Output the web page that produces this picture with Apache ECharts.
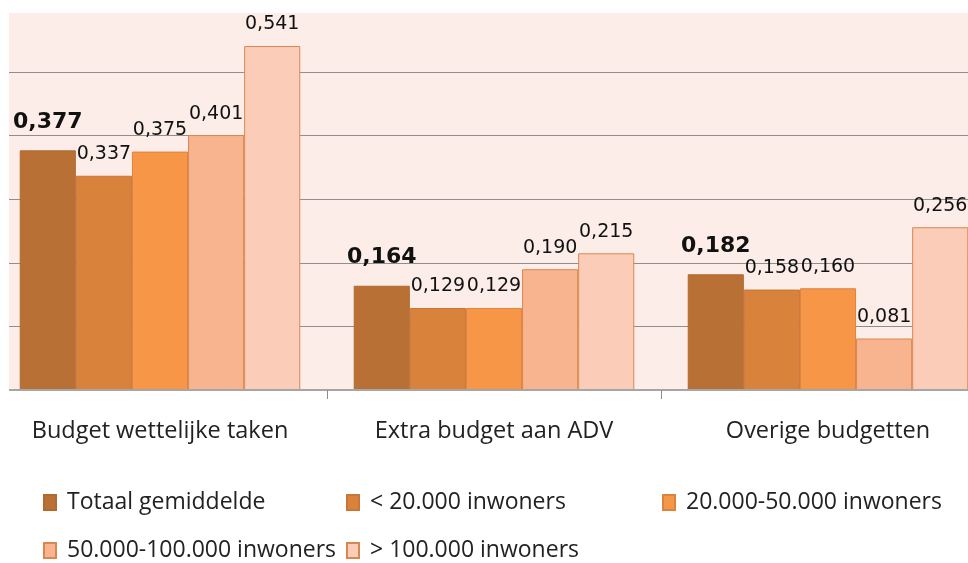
<!DOCTYPE html>
<html>
<head>
<meta charset="utf-8">
<script src="https://cdn.jsdelivr.net/npm/echarts@6/dist/echarts.min.js"></script>
<style>
  html, body { margin: 0; padding: 0; background: #ffffff; }
  #chart { width: 968px; height: 563px; }
</style>
</head>
<body>
<div id="chart"></div>
<script>
// ---- data ----
var categories = ['Budget wettelijke taken', 'Extra budget aan ADV', 'Overige budgetten'];
var seriesNames = ['Totaal gemiddelde', '< 20.000 inwoners', '20.000-50.000 inwoners', '50.000-100.000 inwoners', '> 100.000 inwoners'];
var totaalGemiddelde = [0.377, 0.164, 0.182];
var onder20000 = [0.337, 0.129, 0.158];
var van20000tot50000 = [0.375, 0.129, 0.160];
var van50000tot100000 = [0.401, 0.190, 0.081];
var boven100000 = [0.541, 0.215, 0.256];
var seriesValues = [totaalGemiddelde, onder20000, van20000tot50000, van50000tot100000, boven100000];

// ---- styles ----
var colors = ['#B87034', '#D9823C', '#F79646', '#F8B48E', '#FBCDB8'];
var borders = ['#B06A30', '#C9763A', '#D98540', '#D9874E', '#D9874E'];

function fmt(v) { return v.toFixed(3).replace('.', ','); }

var series = seriesValues.map(function (vals, i) {
  var first = i === 0;
  return {
    name: seriesNames[i],
    type: 'bar',
    data: vals,
    barGap: '0%',
    barCategoryGap: '16%',
    itemStyle: { color: colors[i], borderColor: borders[i], borderWidth: 1 },
    label: {
      show: true,
      position: 'top',
      distance: first ? 17 : 12,
      formatter: function (p) { return fmt(p.value); },
      fontFamily: 'DejaVu Sans',
      fontSize: first ? 22 : 19,
      fontWeight: first ? 'bold' : 'normal',
      color: '#111111'
    },
    z: 3
  };
});

var legendLayout = [
  { left: 43, top: 491 },
  { left: 346, top: 491 },
  { left: 662, top: 491 },
  { left: 43, top: 539 },
  { left: 346, top: 539 }
];
var legends = seriesNames.map(function (n, i) {
  return {
    data: [{ name: n, icon: 'rect' }],
    left: legendLayout[i].left,
    top: legendLayout[i].top,
    padding: 0,
    itemWidth: 12,
    itemHeight: 15,
    selectedMode: false,
    textStyle: { fontFamily: 'Open Sans', fontSize: 23, color: '#222222', padding: [0, 0, 0, 6] }
  };
});

var chart = echarts.init(document.getElementById('chart'), null, { renderer: 'canvas' });
chart.setOption({
  animation: false,
  backgroundColor: '#ffffff',
  color: colors,
  grid: {
    left: -7, top: 13, width: 1002, bottom: 173,
    show: true, backgroundColor: '#FCEDE8', borderWidth: 0,
    containLabel: false, outerBoundsMode: 'none'
  },
  xAxis: {
    type: 'category',
    data: categories,
    axisLine: { show: true, lineStyle: { color: '#A6A6A6', width: 2 } },
    axisTick: { show: true, length: 9, lineStyle: { color: '#8C8C8C', width: 1 } },
    axisLabel: { fontFamily: 'Open Sans', fontSize: 23.5, color: '#222222', margin: 29 },
    z: 5
  },
  yAxis: {
    type: 'value',
    min: 0,
    max: 0.593,
    interval: 0.1,
    axisLine: { show: false },
    axisTick: { show: false },
    axisLabel: { show: false },
    splitLine: { show: true, lineStyle: { color: ['#8E8E8E', '#8E8E8E', '#8E8E8E', '#8E8E8E', '#8E8E8E', '#8E8E8E', 'rgba(0,0,0,0)'], width: 1 } }
  },
  legend: legends,
  series: series,
  graphic: [{
    type: 'rect',
    left: 0, top: 0,
    shape: { width: 9, height: 393 },
    style: { fill: '#ffffff' },
    z: 100
  }]
});
</script>
</body>
</html>
